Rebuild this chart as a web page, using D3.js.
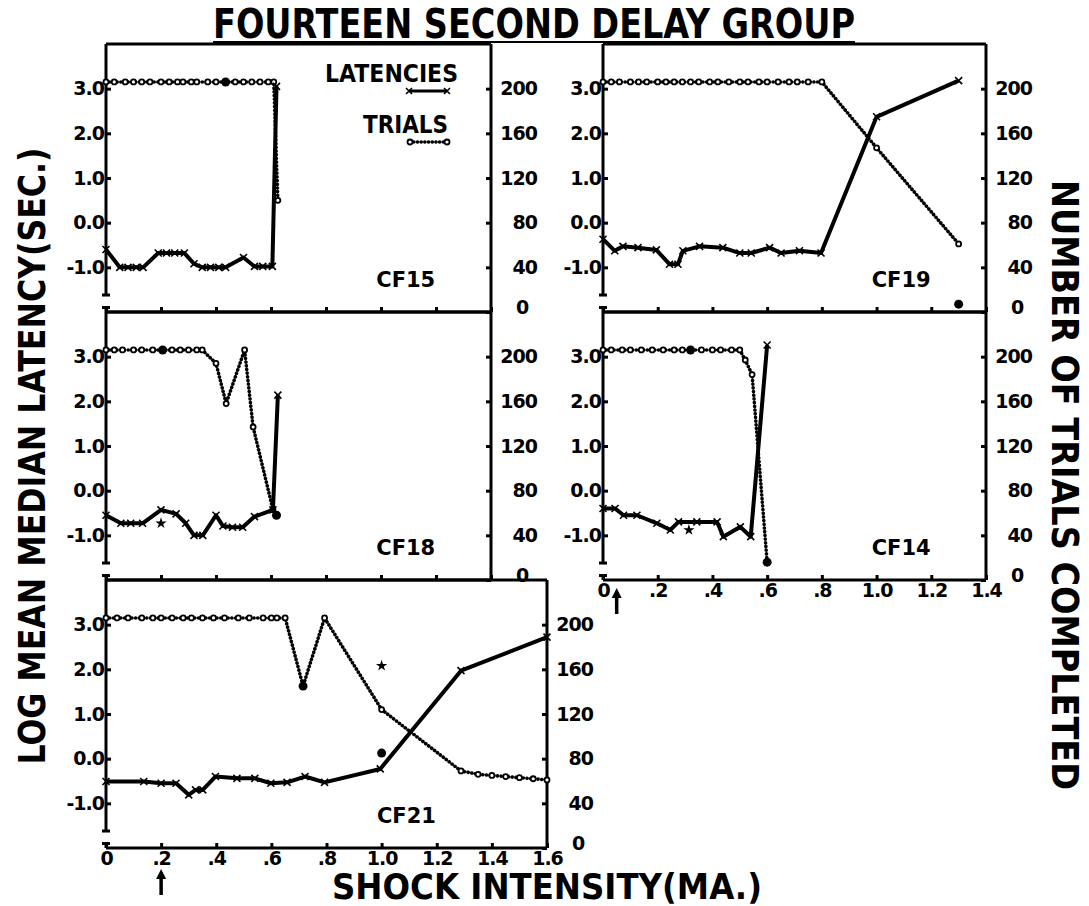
<!DOCTYPE html>
<html>
<head>
<meta charset="utf-8">
<script src="https://cdn.jsdelivr.net/npm/d3@7"></script>
<style>
  body { margin: 0; background: #fff; }
  .tick text { font-family: "DejaVu Sans", sans-serif; font-weight: bold; font-size: 19px; letter-spacing: -1px; fill: #000; }
  .tick line { stroke: #000; stroke-width: 3; }
</style>
</head>
<body>
<svg id="chart"></svg>
<script>
const W = 1089, H = 906;

const xTicks14 = [0, 0.2, 0.4, 0.6, 0.8, 1.0, 1.2, 1.4];
const xTicks16 = [0, 0.2, 0.4, 0.6, 0.8, 1.0, 1.2, 1.4, 1.6];
const latTicks = [-1, 0, 1, 2, 3];
const trialTicks = [0, 40, 80, 120, 160, 200];

// CF15  (x = shock MA, latency = log sec, trials = count)
const cf15Lat = [[0,-0.6],[0.05,-1.0],[0.08,-1.0],[0.11,-1.0],[0.135,-1.0],[0.19,-0.68],[0.22,-0.68],[0.25,-0.68],[0.285,-0.68],[0.32,-0.92],[0.35,-1.0],[0.38,-1.0],[0.41,-1.0],[0.435,-1.0],[0.5,-0.78],[0.54,-0.98],[0.57,-0.98],[0.605,-0.98],[0.62,3.05]];
const cf15Trials = [[0,206],[0.03,206],[0.07,206],[0.1,206],[0.13,206],[0.16,206],[0.2,206],[0.23,206],[0.26,206],[0.28,206],[0.31,206],[0.33,206],[0.37,206],[0.4,206],[0.435,206],[0.47,206],[0.5,206],[0.53,206],[0.56,206],[0.59,206],[0.61,206],[0.625,100]];
const cf15Dots = [[0.435,206]];

// CF19
const cf19Lat = [[0,-0.37],[0.043,-0.63],[0.073,-0.53],[0.128,-0.56],[0.195,-0.61],[0.243,-0.93],[0.274,-0.93],[0.292,-0.63],[0.353,-0.53],[0.438,-0.56],[0.5,-0.68],[0.542,-0.68],[0.609,-0.56],[0.651,-0.68],[0.718,-0.63],[0.797,-0.68],[1.0,2.37],[1.3,3.18]];
const cf19Trials = [[0,206],[0.03,206],[0.06,206],[0.1,206],[0.13,206],[0.16,206],[0.2,206],[0.23,206],[0.26,206],[0.29,206],[0.32,206],[0.35,206],[0.39,206],[0.42,206],[0.46,206],[0.5,206],[0.53,206],[0.57,206],[0.6,206],[0.64,206],[0.68,206],[0.71,206],[0.75,206],[0.8,206],[1.0,147],[1.3,61]];
const cf19Dots = [[1.3,7]];

// CF18
const cf18Lat = [[0,-0.55],[0.054,-0.73],[0.09,-0.73],[0.133,-0.73],[0.2,-0.43],[0.255,-0.52],[0.29,-0.73],[0.32,-1.0],[0.352,-1.0],[0.4,-0.55],[0.425,-0.79],[0.46,-0.82],[0.497,-0.82],[0.54,-0.58],[0.607,-0.43],[0.625,2.14]];
const cf18Trials = [[0,206],[0.03,206],[0.06,206],[0.1,206],[0.13,206],[0.17,206],[0.206,206],[0.24,206],[0.27,206],[0.3,206],[0.33,206],[0.35,206],[0.4,194],[0.437,158],[0.504,206],[0.535,137],[0.607,63],[0.62,58]];
const cf18Dots = [[0.206,206],[0.62,58]];
const cf18Stars = [[0.2,-0.73]];

// CF14
const cf14Lat = [[0,-0.4],[0.044,-0.4],[0.075,-0.55],[0.124,-0.55],[0.197,-0.73],[0.246,-0.88],[0.276,-0.7],[0.343,-0.7],[0.417,-0.7],[0.44,-1.03],[0.502,-0.81],[0.54,-1.03],[0.6,3.26]];
const cf14Trials = [[0,206],[0.03,206],[0.07,206],[0.1,206],[0.14,206],[0.18,206],[0.22,206],[0.26,206],[0.29,206],[0.32,206],[0.36,206],[0.4,206],[0.43,206],[0.47,206],[0.5,206],[0.52,197],[0.545,184],[0.6,16]];
const cf14Dots = [[0.32,206],[0.6,16]];
const cf14Stars = [[0.314,-0.88]];
const cf14Arrow = [0.05];

// CF21
const cf21Lat = [[0,-0.51],[0.137,-0.51],[0.2,-0.55],[0.254,-0.55],[0.3,-0.81],[0.325,-0.7],[0.351,-0.7],[0.397,-0.4],[0.475,-0.44],[0.54,-0.44],[0.598,-0.55],[0.657,-0.53],[0.722,-0.4],[0.793,-0.53],[0.995,-0.23],[1.288,1.97],[1.6,2.72]];
const cf21Trials = [[0,206],[0.04,206],[0.08,206],[0.13,206],[0.17,206],[0.2,206],[0.24,206],[0.28,206],[0.31,206],[0.35,206],[0.39,206],[0.43,206],[0.48,206],[0.52,206],[0.57,206],[0.6,206],[0.62,206],[0.65,206],[0.715,145],[0.793,206],[1.0,124],[1.288,69],[1.35,66],[1.4,65],[1.45,64],[1.5,63],[1.55,62],[1.6,61]];
const cf21Dots = [[0.715,145],[1.0,85]];
const cf21Stars = [[1.0,2.08]];
const cf21Arrow = [0.2];

const panels = [
  {id:'CF15', lat:cf15Lat, trials:cf15Trials, dots:cf15Dots, stars:[], arrow:[], left:106, right:491, top:44, bottom:312, xMax:1.4, ticks:xTicks14, xLabels:false, legend:true},
  {id:'CF19', lat:cf19Lat, trials:cf19Trials, dots:cf19Dots, stars:[], arrow:[], left:603, right:986, top:44, bottom:312, xMax:1.4, ticks:xTicks14, xLabels:false},
  {id:'CF18', lat:cf18Lat, trials:cf18Trials, dots:cf18Dots, stars:cf18Stars, arrow:[], left:106, right:491, top:312, bottom:580, xMax:1.4, ticks:xTicks14, xLabels:false},
  {id:'CF14', lat:cf14Lat, trials:cf14Trials, dots:cf14Dots, stars:cf14Stars, arrow:cf14Arrow, arrowGap:8, left:603, right:986, top:312, bottom:580, xMax:1.4, ticks:xTicks14, xLabels:true},
  {id:'CF21', lat:cf21Lat, trials:cf21Trials, dots:cf21Dots, stars:cf21Stars, arrow:cf21Arrow, arrowGap:21, left:106, right:547, top:580, bottom:848, xMax:1.6, ticks:xTicks16, xLabels:true}
];

const svg = d3.select('#chart').attr('width', W).attr('height', H);

const fmtX = d => d === 0 ? '0' : d3.format('.1f')(d).replace(/^0\./, '.');

panels.forEach(p => {
  const g = svg.append('g');
  const x = d3.scaleLinear().domain([0, p.xMax]).range([p.left, p.right]);
  const y = d3.scaleLinear().domain([-2, 4]).range([p.bottom, p.top]);
  const yT = d3.scaleLinear().domain([0, 240]).range([p.bottom, p.top]);

  // frame: top, right, bottom
  g.append('line').attr('x1', p.left).attr('x2', p.right).attr('y1', p.top).attr('y2', p.top)
    .attr('stroke', '#000').attr('stroke-width', 3);
  g.append('line').attr('x1', p.right).attr('x2', p.right).attr('y1', p.top).attr('y2', p.bottom)
    .attr('stroke', '#000').attr('stroke-width', 3);
  g.append('line').attr('x1', p.left).attr('x2', p.right).attr('y1', p.bottom).attr('y2', p.bottom)
    .attr('stroke', '#000').attr('stroke-width', 3);
  // broken left axis
  g.append('line').attr('x1', p.left).attr('x2', p.left).attr('y1', p.top).attr('y2', y(-1.62))
    .attr('stroke', '#000').attr('stroke-width', 3);
  g.append('line').attr('x1', p.left).attr('x2', p.left).attr('y1', y(-1.9)).attr('y2', p.bottom)
    .attr('stroke', '#000').attr('stroke-width', 3);
  [-1.62, -1.9].forEach(v => {
    g.append('line').attr('x1', p.left - 4).attr('x2', p.left + 4).attr('y1', y(v)).attr('y2', y(v))
      .attr('stroke', '#000').attr('stroke-width', 3);
  });

  // axes (ticks + labels only)
  const ax = g.append('g').attr('transform', `translate(${p.left},0)`)
    .call(d3.axisLeft(y).tickValues(latTicks).tickSize(-5).tickPadding(2).tickFormat(d3.format('.1f')));
  ax.select('.domain').remove();
  ax.selectAll('text').text(d => d3.format('.1f')(d).replace('−', '-'));

  const ar = g.append('g').attr('transform', `translate(${p.right},0)`)
    .call(d3.axisRight(yT).tickValues(trialTicks).tickSize(-5));
  ar.select('.domain').remove();
  ar.selectAll('text')
    .attr('x', d => d === 0 ? 31 : 46)
    .attr('text-anchor', d => d === 0 ? 'middle' : 'end')
    .attr('dy', d => d === 0 ? '0.1em' : '0.32em');

  const ab = g.append('g').attr('transform', `translate(0,${p.bottom})`)
    .call(d3.axisBottom(x).tickValues(p.ticks).tickSize(-5).tickPadding(3).tickFormat(fmtX));
  ab.select('.domain').remove();
  if (!p.xLabels) ab.selectAll('text').remove();

  // trials: dotted line with small open markers
  const lineT = d3.line().x(d => x(d[0])).y(d => yT(d[1]));
  g.append('path').datum(p.trials).attr('d', lineT)
    .attr('fill', 'none').attr('stroke', '#000').attr('stroke-width', 3.6)
    .attr('stroke-linecap', 'round').attr('stroke-dasharray', '0.1 3.6');
  g.selectAll('.tm').data(p.trials).enter().append('circle')
    .attr('cx', d => x(d[0])).attr('cy', d => yT(d[1])).attr('r', 2.5)
    .attr('fill', '#fff').attr('stroke', '#000').attr('stroke-width', 1.8);
  g.selectAll('.bd').data(p.dots).enter().append('circle')
    .attr('cx', d => x(d[0])).attr('cy', d => yT(d[1])).attr('r', 4.5).attr('fill', '#000');

  // latencies: heavy solid line with x markers
  const lineL = d3.line().x(d => x(d[0])).y(d => y(d[1]));
  g.append('path').datum(p.lat).attr('d', lineL)
    .attr('fill', 'none').attr('stroke', '#000').attr('stroke-width', 4)
    .attr('stroke-linejoin', 'round');
  g.selectAll('.lm').data(p.lat).enter().append('path')
    .attr('transform', d => `translate(${x(d[0])},${y(d[1])})`)
    .attr('d', 'M-3.5,-3.5L3.5,3.5M-3.5,3.5L3.5,-3.5')
    .attr('stroke', '#000').attr('stroke-width', 1.6);
  g.selectAll('.st').data(p.stars).enter().append('path')
    .attr('transform', d => `translate(${x(d[0])},${y(d[1])})`)
    .attr('d', d3.symbol(d3.symbolStar, 40)).attr('fill', '#000');

  // arrows under x-axis
  p.arrow.forEach(a => {
    const ay = p.bottom + p.arrowGap;
    g.append('line').attr('x1', x(a)).attr('x2', x(a)).attr('y1', ay + 6).attr('y2', ay + 26)
      .attr('stroke', '#000').attr('stroke-width', 3.5);
    g.append('path').attr('d', `M${x(a)},${ay}L${x(a) - 5},${ay + 10}L${x(a) + 5},${ay + 10}Z`).attr('fill', '#000');
  });

  // panel label
  g.append('text').attr('x', x(1.09)).attr('y', y(-1.44)).attr('text-anchor', 'middle')
    .attr('font-family', 'DejaVu Sans, sans-serif').attr('font-weight', 'bold').attr('font-size', 21)
    .text(p.id);

  if (p.legend) {
    g.append('text').attr('x', 458).attr('y', 82).attr('text-anchor', 'end')
      .attr('font-family', 'DejaVu Sans, sans-serif').attr('font-weight', 'bold').attr('font-size', 24)
      .attr('textLength', 133).attr('lengthAdjust', 'spacingAndGlyphs').text('LATENCIES');
    g.append('line').attr('x1', 409).attr('x2', 447).attr('y1', 91).attr('y2', 91)
      .attr('stroke', '#000').attr('stroke-width', 3);
    [409, 447].forEach(lx => g.append('path').attr('transform', `translate(${lx},91)`)
      .attr('d', 'M-3,-3L3,3M-3,3L3,-3').attr('stroke', '#000').attr('stroke-width', 1.6));
    g.append('text').attr('x', 448).attr('y', 133).attr('text-anchor', 'end')
      .attr('font-family', 'DejaVu Sans, sans-serif').attr('font-weight', 'bold').attr('font-size', 24)
      .attr('textLength', 85).attr('lengthAdjust', 'spacingAndGlyphs').text('TRIALS');
    g.append('line').attr('x1', 410).attr('x2', 447).attr('y1', 142).attr('y2', 142)
      .attr('stroke', '#000').attr('stroke-width', 3.6).attr('stroke-linecap', 'round').attr('stroke-dasharray', '0.1 3.6');
    [410, 447].forEach(lx => g.append('circle').attr('cx', lx).attr('cy', 142).attr('r', 2.5)
      .attr('fill', '#fff').attr('stroke', '#000').attr('stroke-width', 1.8));
  }
});

// titles
svg.append('text').attr('x', 534).attr('y', 38).attr('text-anchor', 'middle')
  .attr('font-family', 'Liberation Sans Narrow, DejaVu Sans Condensed, sans-serif').attr('font-weight', 'bold')
  .attr('font-size', 40).attr('textLength', 642).attr('lengthAdjust', 'spacingAndGlyphs')
  .text('FOURTEEN SECOND DELAY GROUP');
svg.append('line').attr('x1', 213).attr('x2', 855).attr('y1', 42).attr('y2', 42)
  .attr('stroke', '#000').attr('stroke-width', 2);

svg.append('text').attr('transform', 'translate(45,456) rotate(-90)').attr('text-anchor', 'middle')
  .attr('font-family', 'Liberation Sans Narrow, DejaVu Sans Condensed, sans-serif').attr('font-weight', 'bold')
  .attr('font-size', 38).attr('textLength', 617).attr('lengthAdjust', 'spacingAndGlyphs')
  .text('LOG MEAN MEDIAN LATENCY(SEC.)');

svg.append('text').attr('transform', 'translate(1052,485) rotate(90)').attr('text-anchor', 'middle')
  .attr('font-family', 'Liberation Sans Narrow, DejaVu Sans Condensed, sans-serif').attr('font-weight', 'bold')
  .attr('font-size', 38).attr('textLength', 610).attr('lengthAdjust', 'spacingAndGlyphs')
  .text('NUMBER OF TRIALS COMPLETED');

svg.append('text').attr('x', 547).attr('y', 899).attr('text-anchor', 'middle')
  .attr('font-family', 'DejaVu Sans, sans-serif').attr('font-weight', 'bold')
  .attr('font-size', 35).attr('textLength', 430).attr('lengthAdjust', 'spacingAndGlyphs')
  .text('SHOCK INTENSITY(MA.)');
</script>
</body>
</html>
